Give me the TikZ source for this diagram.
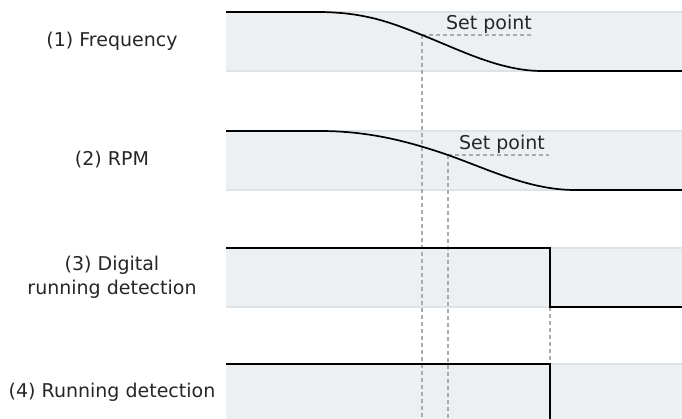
\documentclass[tikz,border=0pt]{standalone}
\usepackage{fontspec}
\setmainfont{DejaVu Sans}
\usepackage{tikz}
\usetikzlibrary{positioning}
\definecolor{bandfill}{HTML}{EDF0F3}
\definecolor{bandedge}{HTML}{DFE2E5}
\definecolor{guide}{HTML}{ABABAB}
\definecolor{textgray}{HTML}{262626}

\begin{document}
\begin{tikzpicture}[
  x=1pt, y=-1pt,
  band/.style={fill=bandfill},
  bandline/.style={draw=bandedge, line width=1.2pt},
  signal/.style={draw=black, line width=1.7pt, line join=miter},
  guideline/.style={draw=guide, line width=1.1pt, dash pattern=on 4pt off 3pt},
  label/.style={align=center, font=\fontsize{19}{23.5}\selectfont, text=textgray},
  setlabel/.style={font=\fontsize{19}{23}\selectfont, text=textgray, inner sep=1pt}
]
  \useasboundingbox (0,0) rectangle (682,419);

  % shaded bands, one per signal
  \foreach \top in {12,131,248,364} {
    \fill[band] (226,\top) rectangle (682,\top+59);
    \draw[bandline] (226,\top) -- (682,\top);
    \draw[bandline] (226,\top+59) -- (682,\top+59);
  }

  % row labels
  \node[label] (freqlabel) at (112,41.5) {(1) Frequency};
  \node[label] (rpmlabel) at (112,160) {(2) RPM};
  \node[label] (diglabel) at (112,277.5) {(3) Digital\\running detection};
  \node[label] (runlabel) at (112,392.5) {(4) Running detection};

  % crossing points and guide ends
  \coordinate (freqset) at (422,35);
  \coordinate (freqsetend) at (533,35);
  \coordinate (freqfoot) at (422,419);
  \coordinate (rpmset) at (448,155);
  \coordinate (rpmsetend) at (549,155);
  \coordinate (rpmfoot) at (448,419);
  \coordinate (digdrop) at (550,307);
  \coordinate (runtop) at (550,364);

  \draw[guideline] (freqset) -- (freqsetend);
  \draw[guideline] (rpmset) -- (rpmsetend);
  \draw[guideline] (freqset) -- (freqfoot);
  \draw[guideline] (rpmset) -- (rpmfoot);
  \draw[guideline] (digdrop) -- (runtop);

  \node[setlabel, above left=0pt of freqsetend] (freqsetlabel) {Set point};
  \node[setlabel, above left=0pt and 3pt of rpmsetend] (rpmsetlabel) {Set point};

  % signals
  \draw[signal] (226,12) -- (317,12) .. controls (365,12) and (392,23) .. (freqset)
    .. controls (460,50) and (500,71) .. (542,71) -- (682,71);
  \draw[signal] (226,131) -- (320,131) .. controls (370,131) and (410,142) .. (rpmset)
    .. controls (490,170) and (530,190) .. (575,190) -- (682,190);
  \draw[signal] (226,248) -- (550,248) -- (digdrop) -- (682,307);
  \draw[signal] (226,364) -- (runtop) -- (550,419);
\end{tikzpicture}
\end{document}
